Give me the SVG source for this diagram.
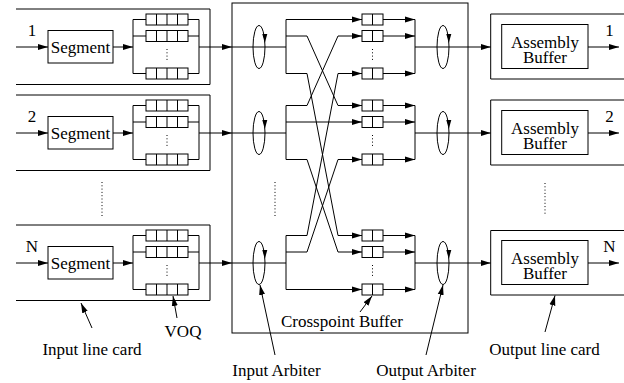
<svg xmlns="http://www.w3.org/2000/svg" xmlns:xlink="http://www.w3.org/1999/xlink" width="624" height="383" viewBox="0 0 624 383">
<style>
.ln{fill:none;stroke:#000;stroke-width:1}
.bx{fill:#fff;stroke:#000;stroke-width:1}
.dot{fill:none;stroke:#000;stroke-width:1;stroke-dasharray:1 2.3}
text{font-family:'Liberation Serif','DejaVu Serif','Times New Roman',serif;font-size:17px;fill:#000;text-anchor:middle}
.ar{fill:none;stroke:#000;stroke-width:1;marker-end:url(#ah)}
</style>
<defs>
<marker id="ah" markerWidth="10" markerHeight="7" refX="10" refY="3.5" orient="auto" markerUnits="userSpaceOnUse"><path d="M0,0.5 L10,3.5 L0,6.5 z" fill="#000"/></marker>
<g id="q4"><rect class="bx" x="0" y="-5.5" width="42" height="11"/><path class="ln" d="M10.5,-5.5v11M21,-5.5v11M31.5,-5.5v11"/></g>
<g id="q2"><rect class="bx" x="0" y="-5.5" width="21" height="11"/><path class="ln" d="M10.5,-5.5v11"/></g>
<g id="voq">
<path class="ln" d="M146,-27.5H133V26.5H146M133,-11H146M188,-27.5H199V26.5H188M188,-11H199"/>
<use xlink:href="#q4" x="146" y="-27.5"/>
<use xlink:href="#q4" x="146" y="-11"/>
<use xlink:href="#q4" x="146" y="26.5"/>
<path class="dot" d="M167,2V14"/>
</g>
<g id="xq">
<use xlink:href="#q2" x="362" y="-27.5"/>
<use xlink:href="#q2" x="362" y="-11"/>
<use xlink:href="#q2" x="362" y="26.5"/>
<path class="dot" d="M372.5,2V14"/>
</g>
<g id="arb"><ellipse class="ln" cx="0" cy="0" rx="6" ry="21.5"/><path d="M3.3,-13 L8.3,-13 L5.8,-4 z" fill="#000"/></g>
</defs>

<g id="crosspoint">
<rect class="ln" x="232" y="3" width="236" height="330"/>
<path class="dot" d="M275,182V216"/>
</g>

<g id="input-card-1">
<path class="ln" d="M16,9H210V84.5H16"/>
<text x="32" y="36" font-family="Liberation Serif, serif">1</text>
<rect class="bx" x="48" y="30.5" width="65" height="32.5"/>
<text x="80.5" y="52.5" font-family="Liberation Serif, serif">Segment</text>
<use xlink:href="#voq" transform="translate(0,47)"/>
</g>
<g id="input-card-2">
<path class="ln" d="M16,95H210V170.5H16"/>
<text x="32" y="122" font-family="Liberation Serif, serif">2</text>
<rect class="bx" x="48" y="116.5" width="65" height="32.5"/>
<text x="80.5" y="138.5" font-family="Liberation Serif, serif">Segment</text>
<use xlink:href="#voq" transform="translate(0,133)"/>
</g>
<path class="dot" d="M102,182V216"/>
<g id="input-card-N">
<path class="ln" d="M16,225H210V300.5H16"/>
<text x="32" y="252" font-family="Liberation Serif, serif">N</text>
<rect class="bx" x="48" y="246.5" width="65" height="32.5"/>
<text x="80.5" y="268.5" font-family="Liberation Serif, serif">Segment</text>
<use xlink:href="#voq" transform="translate(0,263)"/>
</g>

<g id="xbuf-1"><use xlink:href="#xq" transform="translate(0,47)"/></g>
<g id="xbuf-2"><use xlink:href="#xq" transform="translate(0,133)"/></g>
<g id="xbuf-N"><use xlink:href="#xq" transform="translate(0,263)"/></g>

<g id="input-arbiter-1"><use xlink:href="#arb" transform="translate(259,47)"/></g>
<g id="input-arbiter-2"><use xlink:href="#arb" transform="translate(259,133)"/></g>
<g id="input-arbiter-N"><use xlink:href="#arb" transform="translate(259,263)"/></g>
<g id="output-arbiter-1"><use xlink:href="#arb" transform="translate(443,47)"/></g>
<g id="output-arbiter-2"><use xlink:href="#arb" transform="translate(443,133)"/></g>
<g id="output-arbiter-N"><use xlink:href="#arb" transform="translate(443,263)"/></g>

<g id="output-card-1">
<path class="ln" d="M624,14H490.7V79H624"/>
<rect class="bx" x="501.7" y="24.5" width="86.3" height="44"/>
<text x="545" y="47.5" font-family="Liberation Serif, serif">Assembly</text>
<text x="545" y="63" font-family="Liberation Serif, serif">Buffer</text>
<text x="609.5" y="35.5" font-family="Liberation Serif, serif">1</text>
</g>
<g id="output-card-2">
<path class="ln" d="M624,100H490.7V165H624"/>
<rect class="bx" x="501.7" y="110.5" width="86.3" height="44"/>
<text x="545" y="133.5" font-family="Liberation Serif, serif">Assembly</text>
<text x="545" y="149" font-family="Liberation Serif, serif">Buffer</text>
<text x="609.5" y="121.5" font-family="Liberation Serif, serif">2</text>
</g>
<path class="dot" d="M545,183V216"/>
<g id="output-card-N">
<path class="ln" d="M624,230.5H490.7V295H624"/>
<rect class="bx" x="501.7" y="240.5" width="86.3" height="44"/>
<text x="545" y="263.5" font-family="Liberation Serif, serif">Assembly</text>
<text x="545" y="279" font-family="Liberation Serif, serif">Buffer</text>
<text x="609.5" y="251.5" font-family="Liberation Serif, serif">N</text>
</g>

<g id="connectors">
<path class="ar" d="M16,47H48"/><path class="ar" d="M113,47H133"/><path class="ar" d="M199,47H232"/>
<path class="ar" d="M16,133H48"/><path class="ar" d="M113,133H133"/><path class="ar" d="M199,133H232"/>
<path class="ar" d="M16,263H48"/><path class="ar" d="M113,263H133"/><path class="ar" d="M199,263H232"/>
<path class="ln" d="M232,47H286M286,19.5V73.5"/>
<path class="ln" d="M232,133H286M286,105.5V159.5"/>
<path class="ln" d="M232,263H286M286,235.5V289.5"/>
<path class="ar" d="M286,19.5H362"/>
<path class="ar" d="M286,36H307L338,105.5H362"/>
<path class="ar" d="M286,73.5H307L338,235.5H362"/>
<path class="ar" d="M286,105.5H307L338,36H362"/>
<path class="ar" d="M286,122H362"/>
<path class="ar" d="M286,159.5H307L338,252H362"/>
<path class="ar" d="M286,235.5H307L338,73.5H362"/>
<path class="ar" d="M286,252H307L338,159.5H362"/>
<path class="ar" d="M286,289.5H362"/>
<path class="ar" d="M383,19.5H415"/><path class="ar" d="M383,36H415"/><path class="ar" d="M383,73.5H415"/>
<path class="ar" d="M383,105.5H415"/><path class="ar" d="M383,122H415"/><path class="ar" d="M383,159.5H415"/>
<path class="ar" d="M383,235.5H415"/><path class="ar" d="M383,252H415"/><path class="ar" d="M383,289.5H415"/>
<path class="ln" d="M415,19.5V73.5M415,105.5V159.5M415,235.5V289.5"/>
<path class="ar" d="M415,47H490.7"/><path class="ar" d="M415,133H490.7"/><path class="ar" d="M415,263H490.7"/>
<path class="ar" d="M588,47H619"/><path class="ar" d="M588,133H619"/><path class="ar" d="M588,263H619"/>
</g>

<g id="labels">
<path class="ar" d="M92,328L81,303"/>
<text x="92" y="355" font-family="Liberation Serif, serif">Input line card</text>
<path class="ar" d="M177,318L173,296"/>
<text x="183" y="337" font-family="Liberation Serif, serif">VOQ</text>
<path class="ar" d="M360,312L372,296"/>
<text x="342" y="327" font-family="Liberation Serif, serif">Crosspoint Buffer</text>
<path class="ar" d="M275,355L260,285"/>
<text x="276.5" y="376" font-family="Liberation Serif, serif">Input Arbiter</text>
<path class="ar" d="M426,355L443,285"/>
<text x="426" y="376" font-family="Liberation Serif, serif">Output Arbiter</text>
<path class="ar" d="M545,332L555,295.5"/>
<text x="544.5" y="355" font-family="Liberation Serif, serif">Output line card</text>
</g>
</svg>
